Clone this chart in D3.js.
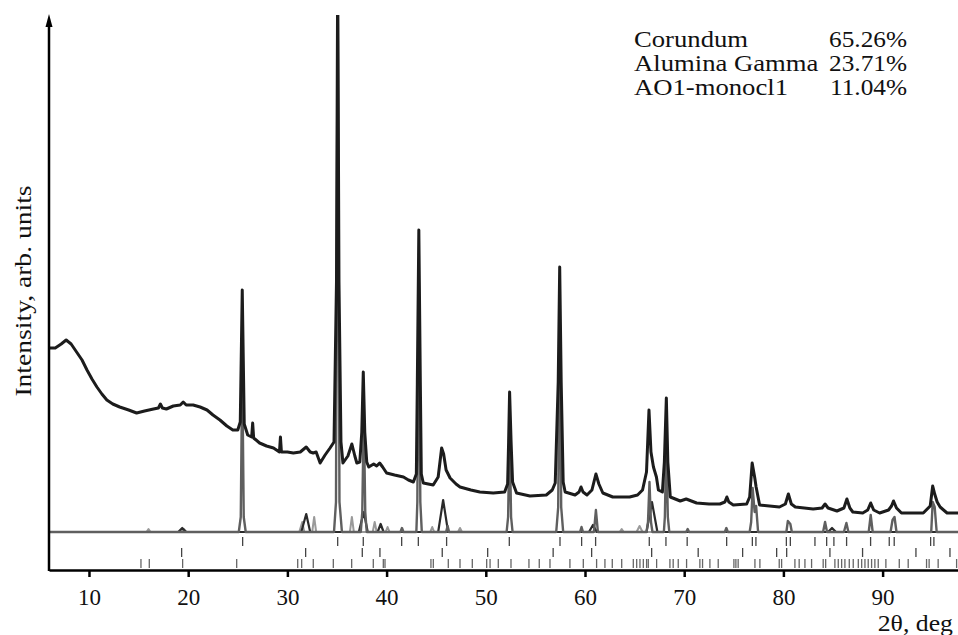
<!doctype html>
<html lang="en">
<head>
  <style>
    body { margin: 0; background: #fff; }
    svg { display: block; }
    .serif { font-family: "Liberation Serif", "Times New Roman", serif; fill: #111; }
  </style>
  <script src="https://d3js.org/d3.v7.min.js"></script>
</head>
<body>
  <script>
    // tick labels of the 2theta axis
    const xTicks = [10, 20, 30, 40, 50, 60, 70, 80, 90];

    // observed pattern: [2theta, intensity (arb.)]
    const observed = [
      [6.0, 184], [6.6, 184], [7.2, 188], [7.7, 192], [8.2, 188], [8.75, 180], [9.3, 172], [9.8, 162],
      [10.3, 153], [10.8, 145], [11.3, 138], [11.8, 132], [12.4, 128], [13.1, 125], [14.0, 122], [14.8, 119],
      [15.6, 121], [16.5, 123], [17.0, 124], [17.2, 128], [17.4, 124], [17.8, 123], [18.5, 126], [19.2, 127],
      [19.5, 130], [19.8, 127], [20.5, 127], [21.2, 125], [21.9, 122], [22.5, 117], [23.2, 112], [23.9, 106],
      [24.5, 102], [25.0, 102], [25.25, 110], [25.45, 242], [25.65, 108], [26.0, 97], [26.4, 95], [26.5, 109],
      [26.6, 94], [27.2, 89], [27.9, 86], [28.6, 84], [29.2, 80], [29.3, 95], [29.4, 80], [30.0, 80],
      [30.6, 79], [31.3, 80], [31.9, 85], [32.3, 80], [32.6, 79], [32.9, 80], [33.3, 69], [33.8, 77],
      [34.3, 84], [34.7, 90], [34.95, 250], [35.07, 560], [35.2, 250], [35.4, 90], [35.6, 69], [36.1, 76],
      [36.5, 88], [36.8, 76], [37.0, 69], [37.3, 70], [37.5, 100], [37.65, 160], [37.8, 100], [38.0, 70],
      [38.2, 65], [38.7, 68], [39.0, 66], [39.3, 69], [39.6, 65], [40.0, 59], [40.8, 57], [41.7, 55],
      [42.2, 52], [42.7, 50], [43.0, 58], [43.1, 150], [43.25, 302], [43.4, 150], [43.5, 58], [43.7, 49],
      [44.2, 48], [44.7, 47], [45.2, 55], [45.55, 84], [45.75, 78], [46.0, 62], [46.4, 54], [47.0, 48],
      [47.4, 45], [48.5, 42], [49.4, 40], [50.75, 39], [51.9, 40], [52.2, 48], [52.3, 90], [52.4, 140],
      [52.55, 90], [52.7, 50], [53.1, 39], [54.45, 36], [56.1, 37], [56.7, 42], [57.0, 49], [57.3, 150],
      [57.45, 265], [57.6, 150], [57.8, 50], [58.0, 40], [59.0, 37], [59.4, 40], [59.6, 45], [59.8, 40],
      [60.2, 37], [60.7, 42], [61.1, 58], [61.4, 48], [61.8, 39], [62.8, 35], [64.5, 35], [65.3, 37],
      [65.8, 42], [66.2, 60], [66.45, 122], [66.65, 80], [66.9, 65], [67.2, 55], [67.4, 42], [67.8, 40],
      [68.0, 70], [68.2, 134], [68.35, 70], [68.6, 35], [69.6, 31], [70.2, 33], [71.25, 29], [72.5, 28],
      [73.6, 28], [74.1, 30], [74.3, 35], [74.5, 30], [74.95, 27], [76.3, 28], [76.6, 35], [76.85, 69],
      [77.1, 55], [77.25, 45], [77.6, 27], [79.6, 25], [80.2, 28], [80.5, 38], [80.8, 28], [81.2, 25],
      [83.0, 23], [83.9, 24], [84.2, 28], [84.5, 24], [85.4, 21], [86.1, 24], [86.4, 33], [86.7, 24],
      [87.0, 20], [88.0, 19], [88.5, 22], [88.8, 29], [89.1, 22], [89.7, 19], [90.6, 22], [90.9, 26],
      [91.1, 31], [91.4, 24], [91.9, 19], [94.1, 19], [94.8, 26], [95.05, 46], [95.25, 38], [95.5, 30],
      [95.8, 25], [96.5, 19], [97.6, 19]
    ];

    // calculated phase profiles (background removed)
    const calcCorundum = [
      [6, 0], [25.1, 0], [25.3, 15], [25.45, 165], [25.6, 15], [25.8, 0], [34.7, 0], [34.9, 30],
      [35.07, 560], [35.25, 30], [35.5, 0], [37.4, 0], [37.55, 20], [37.7, 120], [37.85, 20], [38.0, 0],
      [41.4, 0], [41.55, 4], [41.7, 0], [43.0, 0], [43.1, 30], [43.25, 250], [43.4, 30], [43.55, 0],
      [46.0, 0], [46.15, 6], [46.3, 0], [52.1, 0], [52.25, 15], [52.4, 102], [52.55, 15], [52.7, 0],
      [57.1, 0], [57.3, 25], [57.45, 232], [57.6, 25], [57.8, 0], [59.5, 0], [59.65, 5], [59.8, 0],
      [60.9, 0], [61.1, 22], [61.3, 0], [66.2, 0], [66.35, 10], [66.5, 50], [66.65, 10], [66.8, 0],
      [67.95, 0], [68.05, 15], [68.2, 92], [68.35, 15], [68.5, 0], [70.2, 0], [70.35, 3], [70.5, 0],
      [74.1, 0], [74.25, 4], [74.4, 0], [76.6, 0], [76.75, 10], [76.9, 44], [77.1, 20], [77.25, 26],
      [77.45, 0], [80.3, 0], [80.45, 11], [80.7, 8], [80.85, 0], [84.0, 0], [84.2, 10], [84.4, 0],
      [86.1, 0], [86.35, 9], [86.55, 0], [88.6, 0], [88.8, 17], [89.0, 0], [90.8, 0], [91.0, 12],
      [91.2, 15], [91.4, 0], [94.9, 0], [95.05, 30], [95.25, 25], [95.45, 0], [97.6, 0]
    ];
    const calcGamma = [
      [6, 0], [19.0, 0], [19.4, 4], [19.8, 0], [31.4, 0], [31.9, 18], [32.3, 0], [37.2, 0],
      [37.7, 20], [38.1, 0], [39.1, 0], [39.4, 8], [39.7, 0], [45.2, 0], [45.7, 32], [46.2, 0],
      [60.4, 0], [60.8, 7], [61.2, 0], [66.2, 0], [66.75, 30], [67.3, 0], [84.5, 0], [84.9, 4],
      [85.3, 0], [97.6, 0]
    ];
    const calcMono = [
      [6, 0], [15.8, 0], [16.0, 3], [16.2, 0], [19.3, 0], [19.55, 3], [19.8, 0], [31.2, 0],
      [31.5, 10], [31.7, 0], [32.5, 0], [32.7, 15], [32.9, 0], [36.3, 0], [36.5, 15], [36.7, 0],
      [38.6, 0], [38.8, 10], [39.0, 0], [39.9, 0], [40.1, 5], [40.3, 0], [44.4, 0], [44.6, 5],
      [44.8, 0], [47.2, 0], [47.4, 4], [47.6, 0], [63.5, 0], [63.7, 3], [63.9, 0], [65.2, 0],
      [65.5, 6], [65.8, 0], [97.6, 0]
    ];

    // reflection positions of each phase
    const ticksCorundum = [25.49, 35.07, 37.65, 41.52, 43.2, 46.05, 52.37, 57.48, 59.66, 61.07, 66.48, 68.16,
      70.3, 74.28, 76.87, 77.23, 80.3, 80.7, 83.18, 84.36, 85.09, 86.37, 88.79, 90.67, 91.17, 94.84, 95.17];
    const ticksGamma = [19.34, 31.84, 37.55, 39.33, 45.61, 50.19, 56.79, 60.67, 66.72, 71.41, 75.89, 79.32,
      80.33, 84.69, 87.98, 93.36, 96.79];
    const ticksMono = [15.24, 16.08, 19.44, 24.89, 31.04, 31.44, 32.61, 34.63, 36.48, 38.66, 39.67, 39.84,
      44.47, 44.71, 46.22, 47.4, 48.64, 50.09, 50.43, 51.26, 52.54, 54.35, 55.39, 56.47, 58.48, 59.83,
      61.17, 62.01, 62.75, 63.7, 64.87, 65.21, 65.54, 65.88, 66.21, 66.38, 67.22, 68.56, 68.89, 69.4,
      70.24, 71.58, 71.85, 72.59, 73.43, 75.01, 75.21, 75.44, 77.13, 77.63, 79.58, 79.82, 81.16, 81.59,
      82.17, 82.84, 84.01, 84.26, 85.19, 85.53, 85.87, 86.2, 86.64, 87.04, 87.55, 87.89, 88.22, 88.55,
      88.89, 89.22, 89.56, 90.33, 91.68, 92.58, 94.43, 94.69, 95.6, 97.46];

    const phaseNames = ["Corundum", "Alumina Gamma", "AO1-monocl1"];
    const phasePercents = ["65.26%", "23.71%", "11.04%"];

    const W = 958, H = 635;
    const svg = d3.select("body").append("svg")
      .attr("width", W)
      .attr("height", H);

    const x = d3.scaleLinear().domain([5.97, 97.6]).range([49, 958]);
    const y = d3.scaleLinear().domain([0, 517]).range([532, 15]);

    svg.append("defs").append("clipPath").attr("id", "plot")
      .append("rect")
      .attr("x", 49).attr("y", 15)
      .attr("width", W - 49).attr("height", 555);

    const line = d3.line()
      .x(d => x(d[0]))
      .y(d => y(d[1]));

    const plot = svg.append("g").attr("clip-path", "url(#plot)");

    const curves = [
      { data: calcMono, color: "#9a9a9a", width: 2 },
      { data: calcGamma, color: "#2a2a2a", width: 2.2 },
      { data: calcCorundum, color: "#5f5f5f", width: 2.4 },
      { data: observed, color: "#1c1c1c", width: 3 }
    ];
    curves.forEach(c => {
      plot.append("path")
        .datum(c.data)
        .attr("d", line)
        .attr("fill", "none")
        .attr("stroke", c.color)
        .attr("stroke-width", c.width)
        .attr("stroke-linejoin", "round");
    });

    // reflection tick rows
    const rows = [
      { data: ticksCorundum, y0: 537, y1: 546, color: "#444" },
      { data: ticksGamma, y0: 548, y1: 557, color: "#444" },
      { data: ticksMono, y0: 559, y1: 568, color: "#666" }
    ];
    rows.forEach(r => {
      svg.append("g").selectAll("line")
        .data(r.data)
        .join("line")
        .attr("x1", d => x(d)).attr("x2", d => x(d))
        .attr("y1", r.y0).attr("y2", r.y1)
        .attr("stroke", r.color)
        .attr("stroke-width", 1.3);
    });

    // x axis
    const xAxis = svg.append("g")
      .attr("transform", "translate(0,570)")
      .call(d3.axisBottom(x).tickValues(xTicks).tickSize(7).tickSizeOuter(0));
    xAxis.select(".domain").attr("stroke", "#000").attr("stroke-width", 2.5);
    xAxis.selectAll(".tick line").attr("stroke", "#000").attr("stroke-width", 2.5);
    xAxis.selectAll(".tick text")
      .attr("class", "serif")
      .attr("y", 35)
      .attr("dy", null)
      .style("font-size", "23px");

    // y axis with arrow
    svg.append("line")
      .attr("x1", 49).attr("x2", 49)
      .attr("y1", 571).attr("y2", 24)
      .attr("stroke", "#000")
      .attr("stroke-width", 2.5);
    svg.append("path")
      .attr("d", "M49,14L45.5,27L52.5,27Z")
      .attr("fill", "#000");

    // axis labels
    svg.append("text")
      .attr("class", "serif")
      .attr("transform", "translate(953,631) scale(1.12,1)")
      .attr("text-anchor", "end")
      .style("font-size", "23px")
      .text("2θ, deg");

    svg.append("text")
      .attr("class", "serif")
      .attr("transform", "translate(31,291) rotate(-90) scale(1.2,1)")
      .attr("text-anchor", "middle")
      .style("font-size", "23px")
      .text("Intensity, arb. units");

    // phase fractions
    phaseNames.forEach((name, i) => {
      const base = 47 + i * 24;
      svg.append("text")
        .attr("class", "serif")
        .attr("transform", `translate(634,${base}) scale(1.16,1)`)
        .style("font-size", "23px")
        .text(name);
      svg.append("text")
        .attr("class", "serif")
        .attr("transform", `translate(907,${base}) scale(1.1,1)`)
        .attr("text-anchor", "end")
        .style("font-size", "23px")
        .text(phasePercents[i]);
    });
  </script>
</body>
</html>
